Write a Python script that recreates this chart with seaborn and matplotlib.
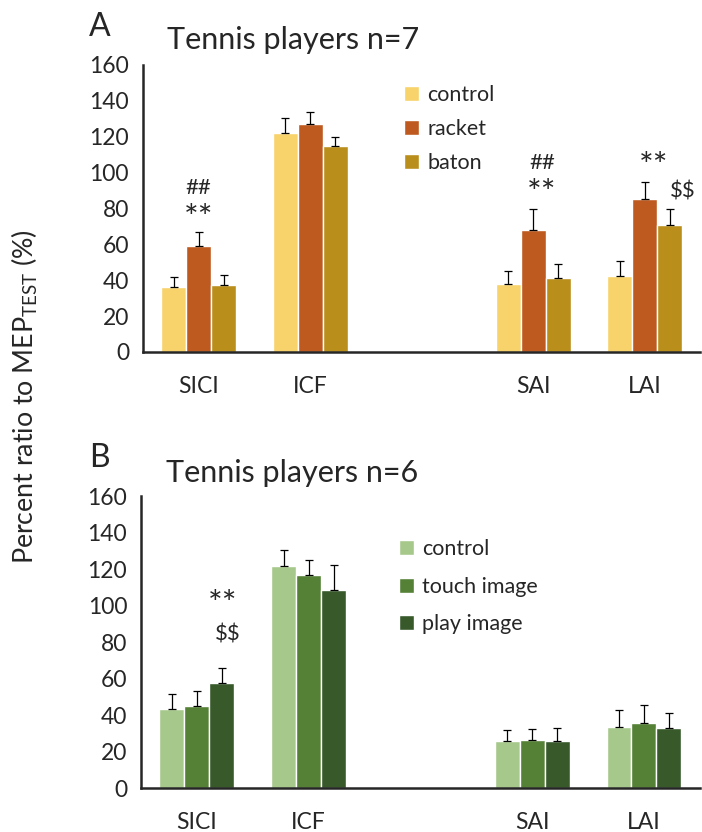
import matplotlib
matplotlib.use('Agg')
import matplotlib.pyplot as plt
import seaborn as sns
import pandas as pd

measures = ['SICI', 'ICF', '', 'SAI', 'LAI']
present = ['SICI', 'ICF', 'SAI', 'LAI']

conds_a = ['control', 'racket', 'baton']
means_a = {
    'control': [36, 122, 38, 42.5],
    'racket': [59, 127, 68, 85.5],
    'baton': [37.5, 115, 41, 70.5],
}
errs_a = {
    'control': [6, 8.5, 7, 8],
    'racket': [8, 7, 11.5, 9],
    'baton': [5.5, 5, 8, 9],
}
colors_a = ['#F8D36B', '#BE5A20', '#B98E1B']

conds_b = ['control', 'touch image', 'play image']
means_b = {
    'control': [43.5, 121.5, 26, 33.5],
    'touch image': [45, 117, 26.5, 35.5],
    'play image': [57.5, 108.5, 26, 33],
}
errs_b = {
    'control': [8, 8.7, 6, 9.3],
    'touch image': [8.5, 8, 6, 10],
    'play image': [8.5, 14, 7, 8.5],
}
colors_b = ['#A6C98B', '#548135', '#385A2B']


def to_frame(conds, means, errs):
    rows = []
    for c in conds:
        for m, v, e in zip(present, means[c], errs[c]):
            rows.append({'measure': m, 'condition': c, 'value': v, 'err': e})
    return pd.DataFrame(rows)


def draw_panel(ax, df, conds, colors, leg_anchor, leg_spacing):
    sns.barplot(data=df, x='measure', y='value', hue='condition', order=measures,
                hue_order=conds, palette=colors, width=0.67, errorbar=None,
                saturation=1, ax=ax)
    lookup = df.set_index(['condition', 'measure'])
    for cond, cont in zip(conds, ax.containers):
        for bar in cont:
            h = bar.get_height()
            if pd.isna(h) or h == 0:
                continue
            xc = bar.get_x() + bar.get_width() / 2
            m = measures[int(round(xc))]
            e = lookup.loc[(cond, m), 'err']
            ax.errorbar(xc, h, yerr=[[0], [e]], fmt='none', ecolor='black',
                        elinewidth=0.9, capsize=3.2, capthick=0.9, zorder=5)
    ax.set_xlim(-0.5, 4.5)
    ax.set_ylim(0, 160)
    ax.set_yticks(range(0, 161, 20))
    ax.set_xticks([-0.5, 0.5, 1.5, 2.5, 3.5, 4.5])
    ax.set_xticklabels([])
    ax.set_xticks([0, 1, 3, 4], minor=True)
    ax.set_xticklabels(['SICI', 'ICF', 'SAI', 'LAI'], minor=True, fontsize=16.5)
    ax.tick_params(axis='x', which='minor', length=0, pad=17)
    ax.tick_params(axis='x', which='major', length=6, width=1.5, direction='out')
    ax.tick_params(axis='y', length=6, width=1.5, labelsize=16.5, pad=4)
    for s in ['top', 'right']:
        ax.spines[s].set_visible(False)
    for s in ['left', 'bottom']:
        ax.spines[s].set_linewidth(1.8)
    ax.set_xlabel('')
    ax.set_ylabel('')
    ax.legend(loc='upper left', bbox_to_anchor=leg_anchor, frameon=False,
              fontsize=15.5, handlelength=0.7, handleheight=0.7,
              handletextpad=0.35, labelspacing=leg_spacing, borderpad=0,
              borderaxespad=0)


sns.set_style('white')
plt.rcParams['font.family'] = ['Lato', 'DejaVu Sans']
plt.rcParams['mathtext.default'] = 'regular'

fig = plt.figure(figsize=(7.02, 8.32), dpi=100)
ax_a = fig.add_axes([0.2037, 0.577, 0.794, 0.345])
ax_b = fig.add_axes([0.2009, 0.0525, 0.796, 0.3513])

draw_panel(ax_a, to_frame(conds_a, means_a, errs_a), conds_a, colors_a, (0.469, 0.93), 0.66)
draw_panel(ax_b, to_frame(conds_b, means_b, errs_b), conds_b, colors_b, (0.462, 0.853), 0.82)

# significance marks
ax_a.text(0.0, 91.5, '##', ha='center', va='center', fontsize=16)
ax_a.text(0.0, 74, '**', ha='center', va='center', fontsize=25)
ax_a.text(3.08, 105.5, '##', ha='center', va='center', fontsize=16)
ax_a.text(3.08, 88, '**', ha='center', va='center', fontsize=25)
ax_a.text(4.08, 103, '**', ha='center', va='center', fontsize=25)
ax_a.text(4.34, 89.5, r'\$\$', ha='center', va='center', fontsize=16)
ax_b.text(0.23, 100.5, '**', ha='center', va='center', fontsize=25)
ax_b.text(0.275, 84, r'\$\$', ha='center', va='center', fontsize=16)

fig.text(0.142, 0.9567, 'A', fontsize=23, ha='center', va='baseline')
fig.text(0.2375, 0.941, 'Tennis players n=7', fontsize=22, ha='left', va='baseline')
fig.text(0.142, 0.439, 'B', fontsize=23, ha='center', va='baseline')
fig.text(0.2365, 0.421, 'Tennis players n=6', fontsize=22, ha='left', va='baseline')
fig.text(0.036, 0.523, 'Percent ratio to MEP$_{TEST}$ (%)', rotation=90,
         ha='center', va='center', fontsize=19.3)

plt.savefig('out.png', dpi=100)
